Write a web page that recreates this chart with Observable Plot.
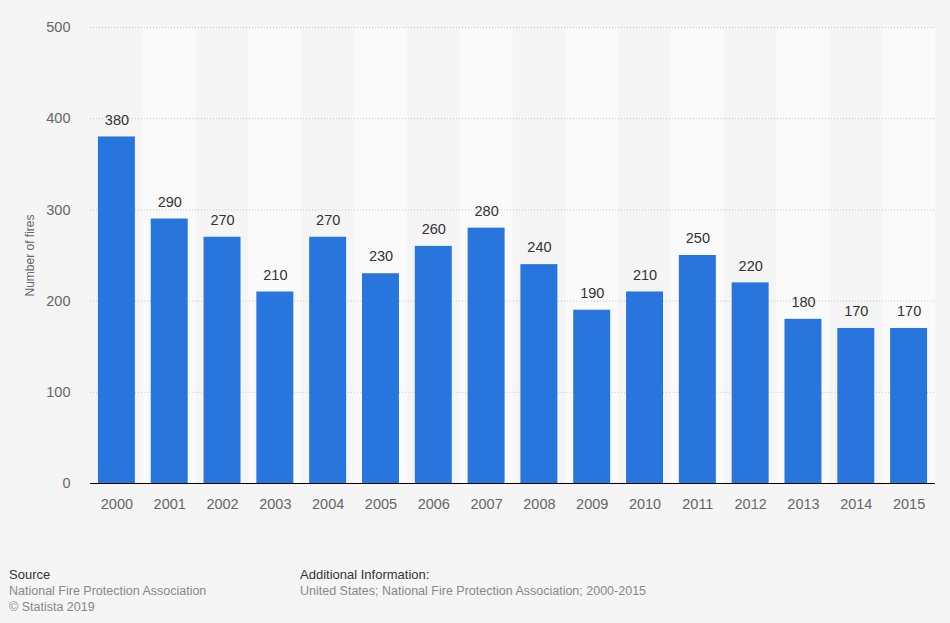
<!DOCTYPE html>
<html>
<head>
<meta charset="utf-8">
<script src="https://cdn.jsdelivr.net/npm/d3@7"></script>
<script src="https://cdn.jsdelivr.net/npm/@observablehq/plot@0.6"></script>
<style>
  html, body { margin: 0; padding: 0; background: #f5f5f5; }
  body { width: 950px; height: 623px; position: relative; overflow: hidden; font-family: "Liberation Sans", Arial, sans-serif; }
  #chart { position: absolute; left: 0; top: 0; }
  .foot { position: absolute; font-size: 12.5px; line-height: 16px; color: #888; }
  .foot .head { color: #333; font-size: 13px; }
</style>
</head>
<body>
<div id="chart"></div>
<div class="foot" style="left:9px; top:567px;">
  <div class="head">Source</div>
  <div>National Fire Protection Association</div>
  <div>© Statista 2019</div>
</div>
<div class="foot" style="left:300px; top:567px;">
  <div class="head">Additional Information:</div>
  <div>United States; National Fire Protection Association; 2000-2015</div>
</div>
<script>
const years = ["2000","2001","2002","2003","2004","2005","2006","2007","2008","2009","2010","2011","2012","2013","2014","2015"];
const fires = [380, 290, 270, 210, 270, 230, 260, 280, 240, 190, 210, 250, 220, 180, 170, 170];
const yTicks = [0, 100, 200, 300, 400, 500];

const data = years.map((y, i) => ({year: y, value: fires[i]}));
const bandYears = years.filter((y, i) => i % 2 === 1);

const W = 950, H = 540, mL = 90, mR = 15;
const step = (W - mL - mR) / years.length;
const barInset = 0.15 * step;

const chart = Plot.plot({
  width: W,
  height: H,
  marginLeft: mL,
  marginRight: mR,
  marginTop: 27,
  marginBottom: 57,
  style: { background: "transparent", fontFamily: "'Liberation Sans', Arial, sans-serif" },
  x: { domain: years, padding: 0, round: false, label: null },
  y: { domain: [0, 500], ticks: yTicks, label: null },
  marks: [
    Plot.barY(bandYears, { x: d => d, y1: 0, y2: 500, fill: "#fafafa" }),
    Plot.gridY(yTicks.filter(t => t > 0), { stroke: "#c8c8c8", strokeOpacity: 1, strokeDasharray: "1,2" }),
    Plot.barY(data, { x: "year", y: "value", fill: "#2876dd", insetLeft: barInset, insetRight: barInset }),
    Plot.ruleY([0], { stroke: "#000", strokeWidth: 1 }),
    Plot.text(data, { x: "year", y: "value", text: d => String(d.value), dy: -17, fontSize: 14.5, fill: "#333" }),
    Plot.axisX({ tickSize: 0, tickPadding: 15, fontSize: 14.5, color: "#666", label: null }),
    Plot.axisY({ ticks: yTicks, tickSize: 0, tickPadding: 20, fontSize: 14.5, color: "#666", label: null }),
    Plot.text(["Number of fires"], { frameAnchor: "left", dx: -60, textAnchor: "middle", rotate: -90, fontSize: 12, fill: "#666" })
  ]
});
document.getElementById("chart").appendChild(chart);
</script>
</body>
</html>
